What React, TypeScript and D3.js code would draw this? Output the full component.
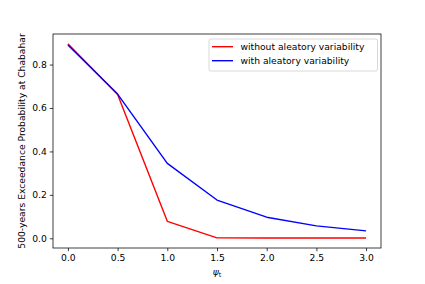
import React, { useEffect, useRef } from "react";
import * as d3 from "d3";

const psiValues = [0.0, 0.5, 1.0, 1.5, 2.0, 2.5, 3.0];
const withoutAleatory = [0.896, 0.662, 0.078, 0.002, 0.001, 0.001, 0.001];
const withAleatory = [0.89, 0.664, 0.345, 0.176, 0.097, 0.057, 0.034];
const xTicks = [0.0, 0.5, 1.0, 1.5, 2.0, 2.5, 3.0];
const yTicks = [0.0, 0.2, 0.4, 0.6, 0.8];
const seriesNames = ["without aleatory variability", "with aleatory variability"];
const seriesColors = ["#ff0000", "#0000ff"];

const W = 425;
const H = 284;
const m = { left: 53, right: 381, top: 34, bottom: 248 };
const font = "DejaVu Sans, sans-serif";

export default function App() {
  const ref = useRef<SVGSVGElement>(null);

  useEffect(() => {
    const svg = d3.select(ref.current);
    svg.selectAll("*").remove();

    const x = d3.scaleLinear().domain([-0.15, 3.15]).range([m.left, m.right]);
    const yMax = 0.896;
    const pad = yMax * 0.05;
    const y = d3.scaleLinear().domain([-pad, yMax + pad]).range([m.bottom, m.top]);

    svg.append("rect").attr("width", W).attr("height", H).attr("fill", "white");

    const line = d3
      .line<number>()
      .x((_, i) => x(psiValues[i]))
      .y((d) => y(d));

    [withoutAleatory, withAleatory].forEach((vals, k) => {
      svg
        .append("path")
        .attr("d", line(vals))
        .attr("fill", "none")
        .attr("stroke", seriesColors[k])
        .attr("stroke-width", 1.4)
        .attr("stroke-linejoin", "round");
    });

    // axes
    const xAxis = svg
      .append("g")
      .attr("transform", `translate(0,${m.bottom})`)
      .call(
        d3
          .axisBottom(x)
          .tickValues(xTicks)
          .tickFormat(d3.format(".1f"))
          .tickSize(3.2)
          .tickPadding(3)
      );
    const yAxis = svg
      .append("g")
      .attr("transform", `translate(${m.left},0)`)
      .call(
        d3
          .axisLeft(y)
          .tickValues(yTicks)
          .tickFormat(d3.format(".1f"))
          .tickSize(3.2)
          .tickPadding(3)
      );
    [xAxis, yAxis].forEach((g) => {
      g.select(".domain").remove();
      g.selectAll("line").attr("stroke", "black").attr("stroke-width", 0.75);
      g.selectAll("text")
        .attr("fill", "black")
        .style("font-family", font)
        .style("font-size", "9.2px");
    });

    svg
      .append("rect")
      .attr("x", m.left)
      .attr("y", m.top)
      .attr("width", m.right - m.left)
      .attr("height", m.bottom - m.top)
      .attr("fill", "none")
      .attr("stroke", "black")
      .attr("stroke-width", 0.75);

    // labels
    const xl = svg
      .append("text")
      .attr("x", (m.left + m.right) / 2)
      .attr("y", 275)
      .attr("text-anchor", "middle")
      .attr("fill", "black")
      .style("font-family", font)
      .style("font-size", "9.2px");
    xl.append("tspan").style("font-style", "italic").attr("fill", "black").text("ψ");
    xl.append("tspan")
      .attr("dy", 1.6)
      .attr("fill", "black")
      .style("font-size", "6.5px")
      .text("t");

    svg
      .append("text")
      .attr("transform", `translate(25,${(m.top + m.bottom) / 2}) rotate(-90)`)
      .attr("text-anchor", "middle")
      .attr("fill", "black")
      .style("font-family", font)
      .style("font-size", "9.2px")
      .text("500-years Exceedance Probability at Chabahar");

    // legend
    const lg = svg.append("g");
    lg.append("rect")
      .attr("x", 209)
      .attr("y", 39)
      .attr("width", 168.5)
      .attr("height", 32)
      .attr("rx", 2)
      .attr("fill", "white")
      .attr("fill-opacity", 0.8)
      .attr("stroke", "#cccccc")
      .attr("stroke-width", 0.75);
    seriesNames.forEach((name, i) => {
      const yy = 46.7 + i * 14;
      lg.append("line")
        .attr("x1", 212)
        .attr("x2", 233)
        .attr("y1", yy)
        .attr("y2", yy)
        .attr("stroke", seriesColors[i])
        .attr("stroke-width", 1.4);
      lg.append("text")
        .attr("x", 240.5)
        .attr("y", yy + 3.3)
        .attr("fill", "black")
        .style("font-family", font)
        .style("font-size", "9.2px")
        .text(name);
    });
  }, []);

  return (
    <div style={{ position: "absolute", left: 0, top: 0 }}>
      <svg ref={ref} width={W} height={H} style={{ display: "block" }} />
    </div>
  );
}
